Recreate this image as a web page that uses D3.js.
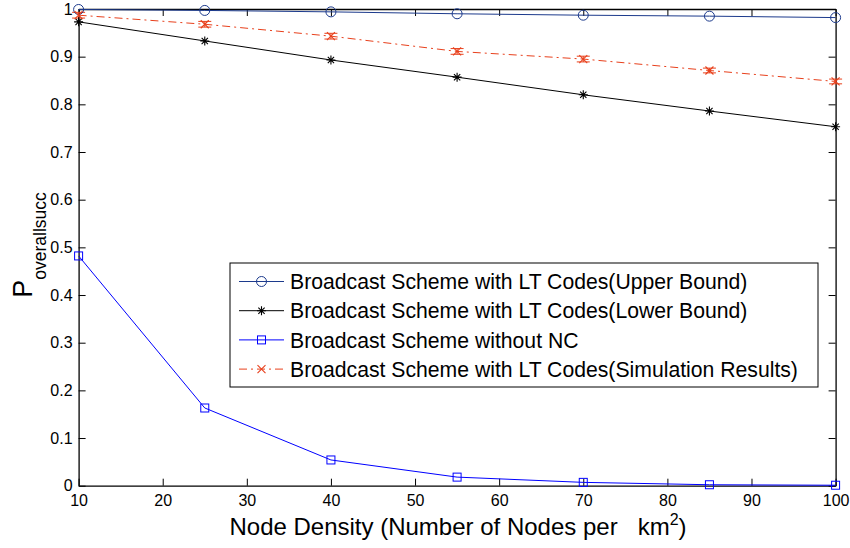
<!DOCTYPE html>
<html>
<head>
<meta charset="utf-8">
<script src="https://cdn.jsdelivr.net/npm/d3@7"></script>
<style>
  body { margin: 0; background: #fff; }
  svg { display: block; font-family: "Liberation Sans", Arial, Helvetica, sans-serif; }
</style>
</head>
<body>
<svg id="chart" width="850" height="548"></svg>
<script>
// Node density (nodes per km^2)
const density = [10, 25, 40, 55, 70, 85, 100];

// Overall success probability for each scheme
const upperBound = [0.999, 0.997, 0.994, 0.990, 0.987, 0.985, 0.982];
const lowerBound = [0.973, 0.933, 0.893, 0.857, 0.820, 0.786, 0.753];
const withoutNC  = [0.482, 0.163, 0.054, 0.018, 0.007, 0.002, 0.001];
const simulation = [0.987, 0.968, 0.943, 0.911, 0.895, 0.871, 0.848];
const simError   = [0.006, 0.006, 0.006, 0.006, 0.006, 0.005, 0.005];

const xTicks = [10, 20, 30, 40, 50, 60, 70, 80, 90, 100];
const yTicks = [0, 0.1, 0.2, 0.3, 0.4, 0.5, 0.6, 0.7, 0.8, 0.9, 1];

const legendLabels = [
  "Broadcast Scheme with LT Codes(Upper Bound)",
  "Broadcast Scheme with LT Codes(Lower Bound)",
  "Broadcast Scheme without NC",
  "Broadcast Scheme with LT Codes(Simulation Results)"
];

const svg = d3.select("#chart");
const plotLeft = 78.6, plotRight = 835.6, plotTop = 9, plotBottom = 485.7;

const x = d3.scaleLinear().domain([10, 100]).range([plotLeft, plotRight]);
const y = d3.scaleLinear().domain([0, 1]).range([plotBottom, plotTop]);

// Axes with inward ticks on all four sides
const tickLen = 7;
svg.append("g").attr("transform", `translate(0,${plotBottom})`)
  .call(d3.axisBottom(x).tickValues(xTicks).tickSizeInner(-tickLen).tickSizeOuter(0).tickPadding(9))
  .call(g => g.selectAll("text").attr("font-size", 16).attr("fill", "#000"));
svg.append("g").attr("transform", `translate(${plotLeft},0)`)
  .call(d3.axisLeft(y).tickValues(yTicks).tickFormat(d3.format("~g")).tickSizeInner(-tickLen).tickSizeOuter(0).tickPadding(6))
  .call(g => g.selectAll("text").attr("font-size", 16).attr("fill", "#000"));
svg.append("g").attr("transform", `translate(0,${plotTop})`)
  .call(d3.axisTop(x).tickValues(xTicks).tickSizeInner(-tickLen).tickSizeOuter(0).tickFormat(""));
svg.append("g").attr("transform", `translate(${plotRight},0)`)
  .call(d3.axisRight(y).tickValues(yTicks).tickSizeInner(-tickLen).tickSizeOuter(0).tickFormat(""));
svg.selectAll(".domain").attr("stroke", "#000").attr("stroke-width", 1.3);
svg.selectAll(".tick line").attr("stroke", "#000");

// Series
const series = [
  { vals: upperBound, color: "#1c3a8c", marker: "circle", dash: null },
  { vals: lowerBound, color: "#000000", marker: "star", dash: null },
  { vals: withoutNC,  color: "#0000ff", marker: "square", dash: null },
  { vals: simulation, color: "#e8401c", marker: "cross", dash: "8,4,2,4" }
];

function drawMarker(g, type, cx, cy, color) {
  if (type === "circle") {
    g.append("circle").attr("cx", cx).attr("cy", cy).attr("r", 5)
      .attr("fill", "none").attr("stroke", color).attr("stroke-width", 1);
  } else if (type === "square") {
    g.append("rect").attr("x", cx - 4).attr("y", cy - 4).attr("width", 8).attr("height", 8)
      .attr("fill", "none").attr("stroke", color).attr("stroke-width", 1);
  } else if (type === "star") {
    const s = 4.5;
    const p = `M${cx - s},${cy}L${cx + s},${cy}M${cx},${cy - s}L${cx},${cy + s}` +
      `M${cx - s * 0.7},${cy - s * 0.7}L${cx + s * 0.7},${cy + s * 0.7}` +
      `M${cx - s * 0.7},${cy + s * 0.7}L${cx + s * 0.7},${cy - s * 0.7}`;
    g.append("path").attr("d", p).attr("stroke", color).attr("stroke-width", 1.1).attr("fill", "none");
  } else if (type === "cross") {
    const s = 4;
    g.append("path").attr("d", `M${cx - s},${cy - s}L${cx + s},${cy + s}M${cx - s},${cy + s}L${cx + s},${cy - s}`)
      .attr("stroke", color).attr("stroke-width", 1.1).attr("fill", "none");
  }
}

const line = d3.line().x((d, i) => x(density[i])).y(d => y(d));
const plot = svg.append("g");

series.forEach(s => {
  plot.append("path").datum(s.vals).attr("d", line)
    .attr("fill", "none").attr("stroke", s.color).attr("stroke-width", 1)
    .attr("stroke-dasharray", s.dash);
});

// Error bars on simulation results
simulation.forEach((v, i) => {
  const cx = x(density[i]), e = simError[i], w = 6.5;
  const y1 = y(v + e), y2 = y(v - e);
  plot.append("path")
    .attr("d", `M${cx},${y1}L${cx},${y2}M${cx - w},${y1}L${cx + w},${y1}M${cx - w},${y2}L${cx + w},${y2}`)
    .attr("stroke", "#e8401c").attr("stroke-width", 1).attr("fill", "none");
});

series.forEach(s => {
  s.vals.forEach((v, i) => drawMarker(plot, s.marker, x(density[i]), y(v), s.color));
});

// Legend
const lg = svg.append("g");
lg.append("rect").attr("x", 230).attr("y", 263).attr("width", 588).attr("height", 124)
  .attr("fill", "#fff").attr("stroke", "#000").attr("stroke-width", 1);
legendLabels.forEach((t, i) => {
  const cy = 281.5 + i * 29.2;
  const s = series[i];
  lg.append("line").attr("x1", 239).attr("x2", 284).attr("y1", cy).attr("y2", cy)
    .attr("stroke", s.color).attr("stroke-width", 1).attr("stroke-dasharray", s.dash);
  drawMarker(lg, s.marker, 261.5, cy, s.color);
  lg.append("text").attr("x", 290).attr("y", cy).attr("dy", "0.36em")
    .attr("font-size", 21.2).attr("fill", "#000").text(t);
});

// Axis titles
const xt = svg.append("text").attr("x", 458).attr("y", 535).attr("text-anchor", "middle")
  .attr("font-size", 24).attr("fill", "#000").style("white-space", "pre");
xt.append("tspan").text("Node Density (Number of Nodes per   km");
xt.append("tspan").attr("font-size", 16).attr("dy", -10).text("2");
xt.append("tspan").attr("dy", 10).text(")");

const yt = svg.append("text").attr("transform", "translate(32,245) rotate(-90)")
  .attr("text-anchor", "middle").attr("fill", "#000").attr("font-size", 27);
yt.append("tspan").text("P");
yt.append("tspan").attr("font-size", 17.5).attr("dy", 14).text("overallsucc");
</script>
</body>
</html>
